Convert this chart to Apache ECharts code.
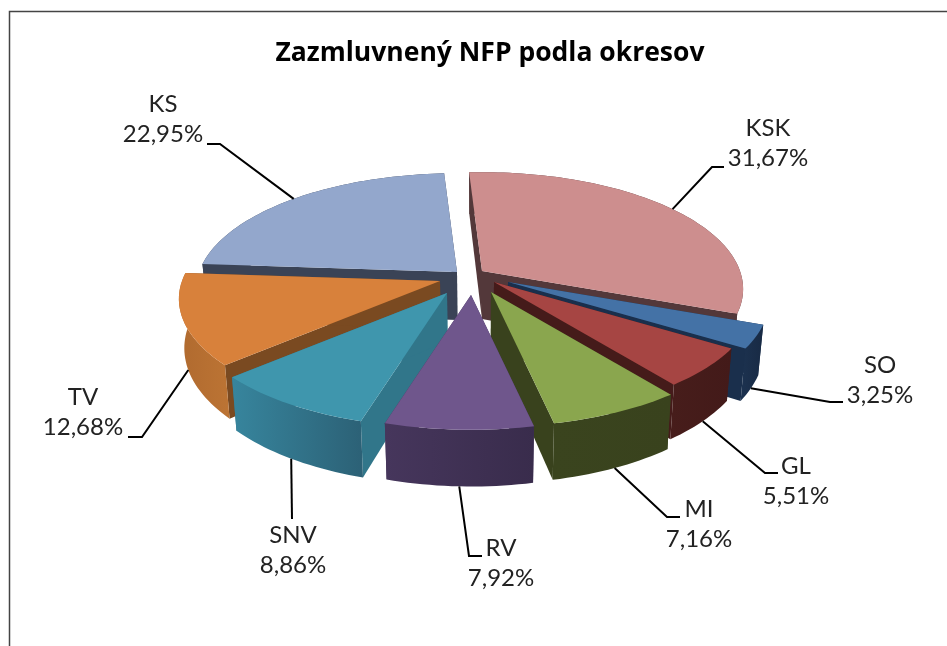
<!DOCTYPE html>
<html>
<head>
    <meta charset="utf-8">
    <script src="https://cdn.jsdelivr.net/npm/echarts@6/dist/echarts.min.js"></script>
    <style type="text/css">
        html, body {margin: 0; padding: 0; background: #fff;}
    </style>
</head>
<body>
<div style="width: 947px;height: 646px;" id="chart"></div>
<script>

let districts = ['KSK', 'SO', 'GL', 'MI', 'RV', 'SNV', 'TV', 'KS'];
let shares = [31.67, 3.25, 5.51, 7.16, 7.92, 8.86, 12.68, 22.95];

// per slice look, same order as districts
let topColors = ['#CD8E8E', '#4472A6', '#A64543', '#8AA64E', '#6F568C', '#3F96AD', '#D8813B', '#93A7CC'];
let innerColors = ['#53383A', '#1A2F4C', '#451B1A', '#39421D', '#43355A', '#31768A', '#7A4A21', '#3A4356'];
let outerColors = [
    ['#53383A', '#53383A'], ['#1C3250', '#182A44'], ['#471D1B', '#431A19'], ['#3A441E', '#39421D'],
    ['#46365C', '#392C4C'], ['#37859D', '#2C6176'], ['#B06A2F', '#BC7434'], ['#3A4356', '#3A4356']
];
// how far each slice is pulled out of the pie, px on screen
let explode = [[12, -10], [38, 1], [24, 1], [21, 11], [1, 14], [-23, 12], [-30, 0], [-13, -9]];
// label centre and leader elbow, px
let labelAt = [[768, 128], [880, 365], [796, 466], [699, 509], [501, 548], [293, 535], [83, 397], [163, 104]];
let elbows = [
    [[724, 167], [712, 167]], [[843, 402], [830, 402]], [[778, 473], [765, 473]], [[680, 517], [667, 517]],
    [[482, 556], [469, 556]], [[292, 519]], [[128, 437], [142, 437]], [[207, 144], [220, 144]]
];

// projection of the tilted pie
let cx = 470, cy = 281;
let radiusX = 258, radiusY = 114, persp = 0.154, depth = 48, firstAngle = -3.3;

let total = shares.reduce((a, b) => a + b, 0);
let from = [], to = [];
let acc = firstAngle;
shares.forEach((v, i) => {
    from[i] = acc;
    acc += v / total * 360;
    to[i] = acc;
});

function pt(i, deg, r, low) {
    let a = deg * Math.PI / 180;
    let den = 1 + persp * r * Math.cos(a);
    let x = cx + explode[i][0] + radiusX * r * Math.sin(a) / den;
    let y = cy + explode[i][1] - radiusY * r * Math.cos(a) / den;
    if (low) {
        x -= (x - 480) * 0.018;
        y += depth / den;
    }
    return [x, y];
}

function arc(i, low) {
    let out = [];
    let n = Math.ceil((to[i] - from[i]) / 1.5);
    for (let k = 0; k <= n; k++) {
        out.push(pt(i, from[i] + (to[i] - from[i]) * k / n, 1, low));
    }
    return out;
}

function renderSlice(params, api) {
    let i = api.value(0);
    let top = arc(i, false), low = arc(i, true);
    let apex = pt(i, 0, 0, false), apexLow = pt(i, 0, 0, true);
    let mid = (from[i] + to[i]) / 2;
    let wall = (a) => [apex, pt(i, a, 1, false), pt(i, a, 1, true), apexLow];
    let children = [
        {type: 'polygon', shape: {points: wall(from[i])}, style: {fill: innerColors[i]}},
        {type: 'polygon', shape: {points: wall(to[i])}, style: {fill: innerColors[i]}},
        {
            type: 'polygon',
            shape: {points: top.concat(low.slice().reverse())},
            style: {
                fill: {
                    type: 'linear', x: 0, y: 0, x2: 1, y2: 0,
                    colorStops: [{offset: 0, color: outerColors[i][0]}, {offset: 1, color: outerColors[i][1]}]
                }
            }
        },
        {type: 'polygon', shape: {points: [apex].concat(top)}, style: {fill: topColors[i]}}
    ];
    // leader and label sit above all slices
    let anchor = pt(i, mid, 1, Math.cos(mid * Math.PI / 180) < 0);
    children.push({
        type: 'polyline',
        z2: 100,
        shape: {points: elbows[i].concat([anchor])},
        style: {fill: null, stroke: '#000', lineWidth: 2}
    });
    children.push({
        type: 'text',
        z2: 100,
        x: labelAt[i][0],
        y: labelAt[i][1] - 15,
        style: {
            text: districts[i] + '\n' + shares[i].toFixed(2).replace('.', ',') + '%',
            fill: '#222',
            font: '24px Lato',
            lineHeight: 30.5,
            align: 'center',
            verticalAlign: 'top'
        }
    });
    return {type: 'group', children: children};
}

// back slices first so the near ones cover them
let order = shares.map((v, i) => i).sort((a, b) =>
    Math.cos((from[b] + to[b]) * Math.PI / 360) - Math.cos((from[a] + to[a]) * Math.PI / 360));

let chart = echarts.init(document.getElementById('chart'));

chart.setOption({
    animation: false,
    backgroundColor: '#fff',
    title: {
        text: 'Zazmluvnený NFP podla okresov',
        left: 485,
        top: 35,
        textAlign: 'center',
        textStyle: {fontFamily: 'Open Sans', fontWeight: 'bold', fontSize: 26.5, color: '#000'}
    },
    graphic: [
        {type: 'polyline', shape: {points: [[9.5, 646], [9.5, 11.5], [947, 11.5]]}, style: {fill: null, stroke: '#444', lineWidth: 1.5}}
    ],
    series: [{
        type: 'custom',
        coordinateSystem: 'none',
        data: order.map(i => [i, shares[i]]),
        renderItem: renderSlice
    }]
});

</script>
</body>
</html>
